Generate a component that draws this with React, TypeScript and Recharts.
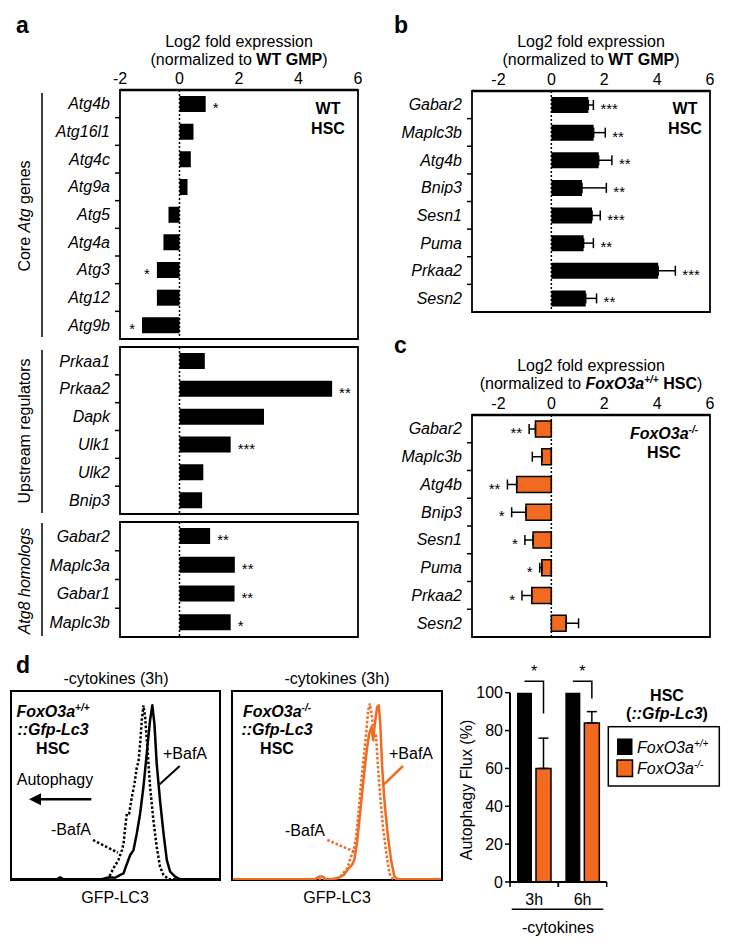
import React from 'react';
import {
  BarChart, Bar, XAxis, YAxis, ReferenceLine, ReferenceArea, ErrorBar, LabelList, LineChart, Line,
} from 'recharts';

const FONT = "Arial, 'Liberation Sans', Helvetica, sans-serif";
const ORANGE = '#F26A1F';

// a: WT HSC vs WT GMP, three gene groups
const coreGenes = ['Atg4b', 'Atg16l1', 'Atg4c', 'Atg9a', 'Atg5', 'Atg4a', 'Atg3', 'Atg12', 'Atg9b'];
const coreLog2 = [0.88, 0.47, 0.38, 0.27, -0.37, -0.54, -0.76, -0.76, -1.26];
const coreStars = ['*', '', '', '', '', '', '*', '', '*'];

const upstreamGenes = ['Prkaa1', 'Prkaa2', 'Dapk', 'Ulk1', 'Ulk2', 'Bnip3'];
const upstreamLog2 = [0.85, 5.13, 2.84, 1.72, 0.8, 0.76];
const upstreamStars = ['', '**', '', '***', '', ''];

const atg8Genes = ['Gabar2', 'Maplc3a', 'Gabar1', 'Maplc3b'];
const atg8Log2 = [1.03, 1.86, 1.85, 1.72];
const atg8Stars = ['**', '**', '**', '*'];

const log2Ticks = [-2, 0, 2, 4, 6];

// b / c share the gene list
const bcGenes = ['Gabar2', 'Maplc3b', 'Atg4b', 'Bnip3', 'Sesn1', 'Puma', 'Prkaa2', 'Sesn2'];
const wtLog2 = [1.4, 1.6, 1.79, 1.16, 1.54, 1.22, 4.04, 1.3];
const wtSem = [0.19, 0.44, 0.5, 0.92, 0.31, 0.37, 0.65, 0.41];
const wtStars = ['***', '**', '**', '**', '***', '**', '***', '**'];
const koLog2 = [-0.6, -0.36, -1.31, -0.96, -0.69, -0.36, -0.74, 0.56];
const koSem = [0.24, 0.36, 0.35, 0.54, 0.31, 0.08, 0.37, 0.47];
const koStars = ['**', '', '**', '*', '*', '*', '*', ''];

// d: GFP-LC3 histograms, [GFP, % of max]
const wtBafPlus = [[0, 0.4], [21.7, 0.4], [23.3, 1.4], [24.9, 0.4], [43.4, 0.4], [46.6, 1.4], [49.8, 1.2], [52.3, 2.7], [53.9, 3.5], [54.7, 6.2], [55.9, 9.7], [57.1, 13.3], [58.7, 15.9], [60.3, 24.8], [61.9, 35.4], [63.5, 49.6], [65.1, 67.3], [66.7, 85], [67.8, 92.9], [68.8, 83.2], [69.9, 62], [71.5, 42.5], [73.2, 24.8], [74.8, 10.6], [76.4, 4.4], [78.8, 1.8], [81.2, 0.4], [100, 0.4]];
const wtBafMinus = [[0, 0.4], [45, 0.4], [46.6, 0.9], [49, 6.2], [51.4, 10.6], [53.1, 15.9], [53.9, 19.5], [54.7, 28.3], [55.5, 35.4], [56.6, 35.4], [57.9, 44.2], [59.2, 51.3], [60.3, 60.2], [61.1, 62.8], [61.9, 72.6], [62.7, 85], [63.5, 92.9], [64.3, 86.7], [65.6, 67.3], [66.7, 49.6], [68.3, 31.9], [69.9, 17.7], [71.5, 7.1], [73.2, 2.7], [75.6, 0.4], [100, 0.4]];
const koBafPlus = [[0, 0.4], [39.2, 0.4], [41.5, 1.8], [43.1, 1.8], [44.7, 0.4], [47, 0.4], [50.2, 0.9], [53.3, 2.7], [55.6, 6.2], [57.2, 8], [58.3, 10.6], [59.6, 19.5], [61.1, 35.4], [62.7, 53.1], [64.3, 69], [65.5, 77.9], [66.6, 81.4], [67.4, 74.3], [68.2, 83.2], [69.3, 92], [70.1, 92.9], [70.8, 83.2], [71.8, 58.4], [72.9, 40.7], [74.5, 23], [76, 10.6], [77.6, 1.8], [79.2, 0.4], [100, 0.4]];
const koBafMinus = [[0, 0.4], [48.6, 0.4], [51.7, 1.8], [54.9, 6.2], [56.7, 12.4], [58, 15.9], [59.2, 23], [60.3, 35.4], [61.4, 49.6], [62.7, 63.7], [64, 77.9], [65, 90.3], [65.8, 93.8], [66.8, 86.7], [67.7, 76.1], [68.7, 77.9], [69.7, 60.2], [70.8, 44.2], [72.1, 28.3], [73.7, 14.2], [75.2, 3.5], [76.8, 0.4], [100, 0.4]];

// d: autophagy flux
const timepoints = ['3h', '6h'];
const fluxWt = [100, 100];
const fluxKo = [60, 84];
const fluxKoErr = [16, 6];
const fluxStars = ['*', '*'];
const bracketLeg = [89, 97];

const toPts = (arr: number[][]) => arr.map(([x, y]) => ({ x, y }));

function HBars({ genes, values, sems, stars, color, left, plotLeft, plotRight, plotTop, plotBottom, domain, ticks }: any) {
  const rows = genes.map((gene: string, i: number) => {
    const e = sems ? sems[i] : 0;
    return { gene, value: values[i], e, err: values[i] < 0 ? [e, 0] : [0, e], star: stars[i] };
  });
  const showAxis = !!ticks;
  const axisH = showAxis ? 30 : 0;
  const mTop = showAxis ? 0 : 2;
  const mBottom = 2;
  const top = plotTop - axisH - mTop;
  const height = plotBottom + mBottom - top;
  const width = plotRight + 4 - left;
  const step = (plotBottom - plotTop) / rows.length;

  const geneTick = (p: any) => (
    <g>
      <text x={p.x} y={p.y} dy="0.35em" textAnchor="end" fontStyle="italic" fontSize={16} fill="#000" fontFamily={FONT}>
        {p.payload.value}
      </text>
      {p.index < rows.length - 1 && (
        <line x1={p.x + 5} x2={p.x + 10} y1={p.y + step / 2} y2={p.y + step / 2} stroke="#000" strokeWidth={1.5} />
      )}
    </g>
  );

  const starLabel = (p: any) => {
    const vb = p.viewBox ?? p;
    const row = rows[p.index];
    if (!row || !row.star) return null;
    const x = Number(vb.x), w = Number(vb.width), y = Number(vb.y), h = Number(vb.height);
    const ppu = Math.abs(w) / Math.abs(row.value);
    const l = Math.min(x, x + w);
    const r = Math.max(x, x + w);
    const cy = y + h / 2;
    const pos = row.value >= 0;
    const sx = pos ? r + row.e * ppu + 7 : l - row.e * ppu - 7;
    return (
      <text x={sx} y={cy} dy={9} textAnchor={pos ? 'start' : 'end'} fontSize={15} fill="#000" fontFamily={FONT}>
        {row.star}
      </text>
    );
  };

  return (
    <div style={{ position: 'absolute', left, top }}>
      <BarChart width={width} height={height} data={rows} layout="vertical"
        margin={{ top: mTop, right: 4, bottom: mBottom, left: 0 }}>
        <XAxis type="number" orientation="top" domain={domain} ticks={ticks ?? log2Ticks} hide={!showAxis}
          height={axisH} axisLine={{ stroke: '#000', strokeWidth: 2.5 }} tickLine={false} tickSize={3} tickMargin={3}
          tick={{ fill: '#000', fontSize: 16, fontFamily: FONT }} allowDataOverflow />
        <YAxis type="category" dataKey="gene" width={plotLeft - left} axisLine={false} tickLine={false}
          tickSize={5} tickMargin={5} tick={geneTick} interval={0} />
        <ReferenceArea x1={domain[0]} x2={domain[1]} fill="none" stroke="#000" strokeWidth={1.8} ifOverflow="visible" />
        <ReferenceLine x={0} stroke="#000" strokeWidth={1.5} strokeDasharray="2 2" />
        <Bar dataKey="value" fill={color} stroke={color === '#000' ? 'none' : '#000'} strokeWidth={1.5}
          barSize={16} isAnimationActive={false}>
          {sems && <ErrorBar dataKey="err" direction="x" width={5} stroke="#000" strokeWidth={1.5} />}
          <LabelList dataKey="value" content={starLabel} />
        </Bar>
      </BarChart>
    </div>
  );
}

function Histogram({ left, top, width, height, plus, minus, color }: any) {
  return (
    <div style={{ position: 'absolute', left, top, width, height, border: '2px solid #000', boxSizing: 'border-box' }}>
      <LineChart width={width - 4} height={height - 3} margin={{ top: 0, right: 0, bottom: 0, left: 0 }}>
        <XAxis type="number" dataKey="x" domain={[0, 100]} hide />
        <YAxis type="number" domain={[0, 100]} hide />
        <Line data={toPts(minus)} dataKey="y" type="linear" stroke={color} strokeWidth={2.5} strokeDasharray="2.5 2"
          dot={false} isAnimationActive={false} />
        <Line data={toPts(plus)} dataKey="y" type="linear" stroke={color} strokeWidth={2.5} strokeLinejoin="round"
          dot={false} isAnimationActive={false} />
      </LineChart>
    </div>
  );
}

function FluxChart() {
  const rows = timepoints.map((t, i) => ({ t, wt: fluxWt[i], ko: fluxKo[i], koErr: [0, fluxKoErr[i]] }));
  const chartW = 140, yW = 40, mRight = 3.3;
  const band = (chartW - yW - mRight) / rows.length;

  const timeTick = (p: any) => (
    <g>
      <text x={p.x} y={p.y} dy="0.71em" textAnchor="middle" fontSize={16} fill="#000" fontFamily={FONT}>{p.payload.value}</text>
      <line x1={p.x - band / 2} x2={p.x - band / 2} y1={p.y - 12} y2={p.y - 7} stroke="#000" strokeWidth={1.5} />
      <line x1={p.x + band / 2} x2={p.x + band / 2} y1={p.y - 12} y2={p.y - 7} stroke="#000" strokeWidth={1.5} />
    </g>
  );

  const bracket = (p: any) => {
    const vb = p.viewBox ?? p;
    const i = p.index ?? 0;
    const x = Number(vb.x), y = Number(vb.y), w = Number(vb.width), h = Number(vb.height);
    const ppu = h / fluxKo[i];
    const base = y + h;
    const oc = x + w / 2;
    const bc = x - 4 - w / 2;
    const top = base - 106 * ppu;
    const leg = base - bracketLeg[i] * ppu;
    return (
      <g>
        <polyline points={`${bc},${top} ${oc},${top} ${oc},${leg}`} fill="none" stroke="#000" strokeWidth={1.5} />
        <text x={(bc + oc) / 2} y={base - 113 * ppu} dy={9} textAnchor="middle" fontSize={16} fill="#000" fontFamily={FONT}>
          {fluxStars[i]}
        </text>
      </g>
    );
  };

  return (
    <div style={{ position: 'absolute', left: 470, top: 662 }}>
      <BarChart width={chartW} height={258} data={rows} margin={{ top: 30.7, right: mRight, bottom: 0, left: 0 }}
        barSize={15} barGap={4}>
        <XAxis dataKey="t" height={38} axisLine={{ stroke: '#000', strokeWidth: 2 }} tickLine={false} tickSize={0}
          tickMargin={12} tick={timeTick} interval={0} />
        <YAxis width={yW} domain={[0, 100]} ticks={[0, 20, 40, 60, 80, 100]} axisLine={{ stroke: '#000', strokeWidth: 2 }}
          tickLine={{ stroke: '#000', strokeWidth: 1.5 }} tickSize={5} tickMargin={2}
          tick={{ fill: '#000', fontSize: 16, fontFamily: FONT }} />
        <Bar dataKey="wt" fill="#000" isAnimationActive={false} />
        <Bar dataKey="ko" fill={ORANGE} stroke="#000" strokeWidth={1.5} isAnimationActive={false}>
          <ErrorBar dataKey="koErr" direction="y" width={5} stroke="#000" strokeWidth={1.5} />
          <LabelList dataKey="ko" content={bracket} />
        </Bar>
      </BarChart>
    </div>
  );
}

const T = ({ x, y, children, anchor = 'middle', size = 16, weight, italic, rotate }: any) => (
  <text x={x} y={y} dy="0.35em" textAnchor={anchor} fontSize={size} fontWeight={weight} fontStyle={italic ? 'italic' : undefined}
    fontFamily={FONT} fill="#000" transform={rotate ? `rotate(-90, ${x}, ${y})` : undefined}>
    {children}
  </text>
);

const Sup = ({ children }: any) => (
  <>
    <tspan fontSize={10} dy={-6}>{children}</tspan>
    <tspan dy={6}>{'\u200b'}</tspan>
  </>
);

export default function App() {
  return (
    <div style={{ position: 'absolute', left: 0, top: 0, width: 730, height: 946, background: '#fff', fontFamily: FONT }}>
      <HBars genes={coreGenes} values={coreLog2} stars={coreStars} color="#000" left={30} plotLeft={120} plotRight={358}
        plotTop={90} plotBottom={339} domain={[-2, 6]} ticks={log2Ticks} />
      <HBars genes={upstreamGenes} values={upstreamLog2} stars={upstreamStars} color="#000" left={30} plotLeft={120} plotRight={358}
        plotTop={347} plotBottom={514} domain={[-2, 6]} />
      <HBars genes={atg8Genes} values={atg8Log2} stars={atg8Stars} color="#000" left={30} plotLeft={120} plotRight={358}
        plotTop={522} plotBottom={637} domain={[-2, 6]} />

      <HBars genes={bcGenes} values={wtLog2} sems={wtSem} stars={wtStars} color="#000" left={380} plotLeft={472} plotRight={710}
        plotTop={91} plotBottom={312} domain={[-3, 6]} ticks={log2Ticks} />
      <HBars genes={bcGenes} values={koLog2} sems={koSem} stars={koStars} color={ORANGE} left={380} plotLeft={472} plotRight={710}
        plotTop={415} plotBottom={637} domain={[-3, 6]} ticks={log2Ticks} />

      <Histogram left={10} top={690} width={211} height={191} plus={wtBafPlus} minus={wtBafMinus} color="#000" />
      <Histogram left={231} top={690} width={212} height={191} plus={koBafPlus} minus={koBafMinus} color={ORANGE} />
      <FluxChart />

      <svg width={730} height={946} style={{ position: 'absolute', left: 0, top: 0, pointerEvents: 'none' }}>
        {/* panel letters */}
        <text x={16} y={33} fontSize={23} fontWeight="bold" fontFamily={FONT}>a</text>
        <text x={394} y={33} fontSize={23} fontWeight="bold" fontFamily={FONT}>b</text>
        <text x={394} y={353} fontSize={23} fontWeight="bold" fontFamily={FONT}>c</text>
        <text x={16} y={673} fontSize={23} fontWeight="bold" fontFamily={FONT}>d</text>

        {/* a */}
        <T x={239} y={41}>Log2 fold expression</T>
        <T x={239} y={59}>(normalized to <tspan fontWeight="bold">WT GMP</tspan>)</T>
        <T x={328} y={108} weight="bold">WT</T>
        <T x={328} y={128} weight="bold">HSC</T>
        <line x1={42} x2={42} y1={93} y2={337} stroke="#000" strokeWidth={1.5} />
        <line x1={42} x2={42} y1={350} y2={513} stroke="#000" strokeWidth={1.5} />
        <line x1={42} x2={42} y1={523} y2={636} stroke="#000" strokeWidth={1.5} />
        <T x={24} y={216} rotate>Core <tspan fontStyle="italic">Atg</tspan> genes</T>
        <T x={24} y={431} rotate>Upstream regulators</T>
        <T x={24} y={581} rotate italic>Atg8 homologs</T>

        {/* b */}
        <T x={591} y={41}>Log2 fold expression</T>
        <T x={591} y={59}>(normalized to <tspan fontWeight="bold">WT GMP</tspan>)</T>
        <T x={685} y={108} weight="bold">WT</T>
        <T x={685} y={128} weight="bold">HSC</T>

        {/* c */}
        <T x={591} y={365}>Log2 fold expression</T>
        <T x={591} y={383}>
          (normalized to <tspan fontWeight="bold" fontStyle="italic">FoxO3a</tspan>
          <tspan fontSize={10} dy={-6} fontWeight="bold" fontStyle="italic">+/+</tspan>
          <tspan dy={6} fontWeight="bold"> HSC</tspan>)
        </T>
        <T x={664} y={433} weight="bold" italic>
          FoxO3a<tspan fontSize={10} dy={-6}>-/-</tspan>
        </T>
        <T x={664} y={452} weight="bold">HSC</T>

        {/* d histograms */}
        <T x={116} y={678}>-cytokines (3h)</T>
        <T x={337} y={678}>-cytokines (3h)</T>
        <T x={115} y={897}>GFP-LC3</T>
        <T x={337} y={897}>GFP-LC3</T>

        <T x={53} y={711} weight="bold" italic>FoxO3a<tspan fontSize={10} dy={-6}>+/+</tspan></T>
        <T x={53} y={729} weight="bold" italic>::Gfp-Lc3</T>
        <T x={53} y={748} weight="bold">HSC</T>
        <T x={185} y={753}>+BafA</T>
        <line x1={179.7} y1={766} x2={159.7} y2={784.3} stroke="#000" strokeWidth={2} />
        <T x={55} y={779}>Autophagy</T>
        <line x1={91.3} y1={799.3} x2={38} y2={799.3} stroke="#000" strokeWidth={2.5} />
        <polygon points="29,799.3 41,793.3 41,805.3" fill="#000" />
        <T x={71} y={829}>-BafA</T>
        <line x1={93} y1={840} x2={118} y2={852.7} stroke="#000" strokeWidth={2.5} strokeDasharray="2.5 2" />

        <T x={277} y={711} weight="bold" italic>FoxO3a<tspan fontSize={10} dy={-6}>-/-</tspan></T>
        <T x={277} y={729} weight="bold" italic>::Gfp-Lc3</T>
        <T x={277} y={748} weight="bold">HSC</T>
        <T x={411} y={753}>+BafA</T>
        <line x1={403} y1={766} x2={384} y2={784.3} stroke={ORANGE} strokeWidth={2.5} />
        <T x={305} y={830}>-BafA</T>
        <line x1={327.3} y1={840} x2={354.7} y2={851.7} stroke={ORANGE} strokeWidth={2.5} strokeDasharray="2.5 2" />

        {/* d flux */}
        <T x={466} y={790} rotate>Autophagy Flux (%)</T>
        <line x1={511.7} x2={603.3} y1={909.3} y2={909.3} stroke="#000" strokeWidth={1.5} />
        <T x={558} y={927}>-cytokines</T>
        <T x={667} y={695} weight="bold">HSC</T>
        <T x={667} y={713} weight="bold">(<tspan fontStyle="italic">::Gfp-Lc3</tspan>)</T>
        <rect x={608.3} y={726.7} width={111} height={59.3} fill="none" stroke="#000" strokeWidth={1.5} />
        <rect x={617} y={738.5} width={15.5} height={16.5} fill="#000" />
        <T x={637} y={747} anchor="start" italic>FoxO3a<tspan fontSize={10} dy={-6}>+/+</tspan></T>
        <rect x={617} y={760} width={15.5} height={16.5} fill={ORANGE} stroke="#000" strokeWidth={1.5} />
        <T x={637} y={768} anchor="start" italic>FoxO3a<tspan fontSize={10} dy={-6}>-/-</tspan></T>
      </svg>
    </div>
  );
}
